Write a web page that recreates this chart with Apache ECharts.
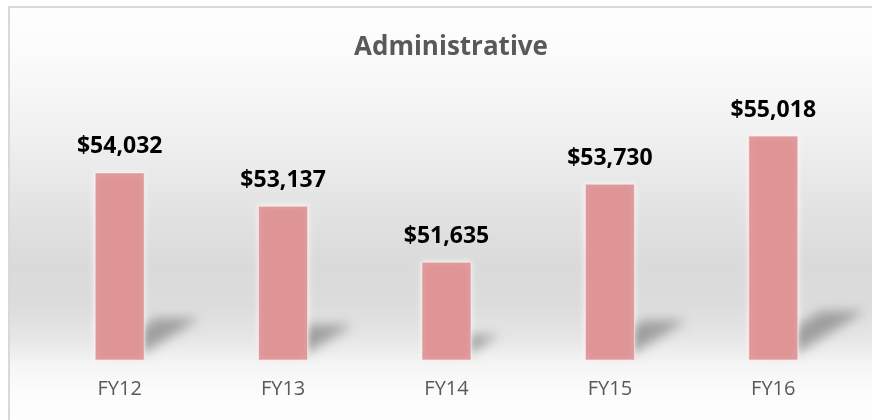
<!DOCTYPE html>
<html>
<head>
<meta charset="utf-8">
<title>Administrative</title>
<script src="https://cdn.jsdelivr.net/npm/echarts@6/dist/echarts.min.js"></script>
<style>
  html, body { margin: 0; padding: 0; background: #ffffff; }
  #chart { width: 872px; height: 420px; }
</style>
</head>
<body>
<div id="chart"></div>
<script>
// values
const categories = ['FY12', 'FY13', 'FY14', 'FY15', 'FY16']
const amounts = [54032, 53137, 51635, 53730, 55018]

const axisMin = 49000
const axisMax = 56000

const colors = {
  bar: '#df9496',
  title: '#595959',
  label: '#000000',
  tick: '#595959',
  border: '#d9d9d9'
}

const chart = echarts.init(document.getElementById('chart'))

// perspective shadow behind each bar: the shape is pushed off screen and
// only its blurred shadow is brought back, so it stays soft
const far = 3000
const renderShadow = (params, api) => {
  const top = api.coord([api.value(0), api.value(1)])
  const base = api.coord([api.value(0), axisMin])
  const h = base[1] - top[1]
  const half = 22
  const dx = h * 0.31
  const dy = h * 0.19
  const x0 = top[0] - half
  const x1 = top[0] + half
  const yb = base[1] - 6
  return {
    type: 'polygon',
    shape: {
      points: [
        [x0 - far, yb],
        [x1 - far, yb],
        [x1 + dx - far, yb - dy],
        [x0 + dx - far, yb - dy]
      ]
    },
    style: {
      fill: '#000',
      shadowBlur: 12,
      shadowOffsetX: far,
      shadowColor: 'rgba(100, 100, 100, 0.55)'
    }
  }
}

chart.setOption({
  animation: false,
  graphic: [{
    type: 'rect',
    z: -10,
    silent: true,
    shape: { x: 9, y: 7, width: 880, height: 430 },
    style: {
      fill: new echarts.graphic.LinearGradient(0, 0, 0, 1, [
        { offset: 0, color: '#fefefe' },
        { offset: 0.12, color: '#fbfbfb' },
        { offset: 0.3, color: '#f0f0f0' },
        { offset: 0.48, color: '#e2e2e2' },
        { offset: 0.6, color: '#dadada' },
        { offset: 0.69, color: '#dcdcdc' },
        { offset: 0.77, color: '#e6e6e6' },
        { offset: 0.83, color: '#f5f5f5' },
        { offset: 0.9, color: '#fcfcfc' },
        { offset: 1, color: '#ffffff' }
      ]),
      stroke: colors.border,
      lineWidth: 2
    }
  }],
  title: {
    text: 'Administrative',
    left: 349,
    top: 30,
    textStyle: {
      fontFamily: 'Open Sans',
      fontSize: 26,
      fontWeight: 'bold',
      color: colors.title
    }
  },
  grid: {
    left: 38,
    right: 17,
    top: 99,
    bottom: 60
  },
  xAxis: {
    type: 'category',
    data: categories,
    axisLine: { show: false },
    axisTick: { show: false },
    axisLabel: {
      margin: 19,
      fontFamily: 'Open Sans',
      fontSize: 20,
      color: colors.tick
    }
  },
  yAxis: {
    type: 'value',
    min: axisMin,
    max: axisMax,
    show: false,
    splitLine: { show: false }
  },
  series: [
    {
      type: 'custom',
      z: 1,
      silent: true,
      clip: false,
      renderItem: renderShadow,
      encode: { x: 0, y: 1 },
      data: amounts.map((v, i) => [i, v])
    },
    {
      type: 'bar',
      z: 3,
      data: amounts,
      barWidth: 50,
      itemStyle: {
        color: colors.bar,
        borderColor: 'rgba(255, 235, 235, 0.6)',
        borderWidth: 1,
        shadowBlur: 6,
        shadowColor: 'rgba(255, 255, 255, 0.8)'
      },
      label: {
        show: true,
        position: 'top',
        distance: 14,
        fontFamily: 'Open Sans',
        fontSize: 23,
        fontWeight: 'bold',
        color: colors.label,
        formatter: p => '$' + p.value.toLocaleString('en-US')
      }
    }
  ]
})
</script>
</body>
</html>
